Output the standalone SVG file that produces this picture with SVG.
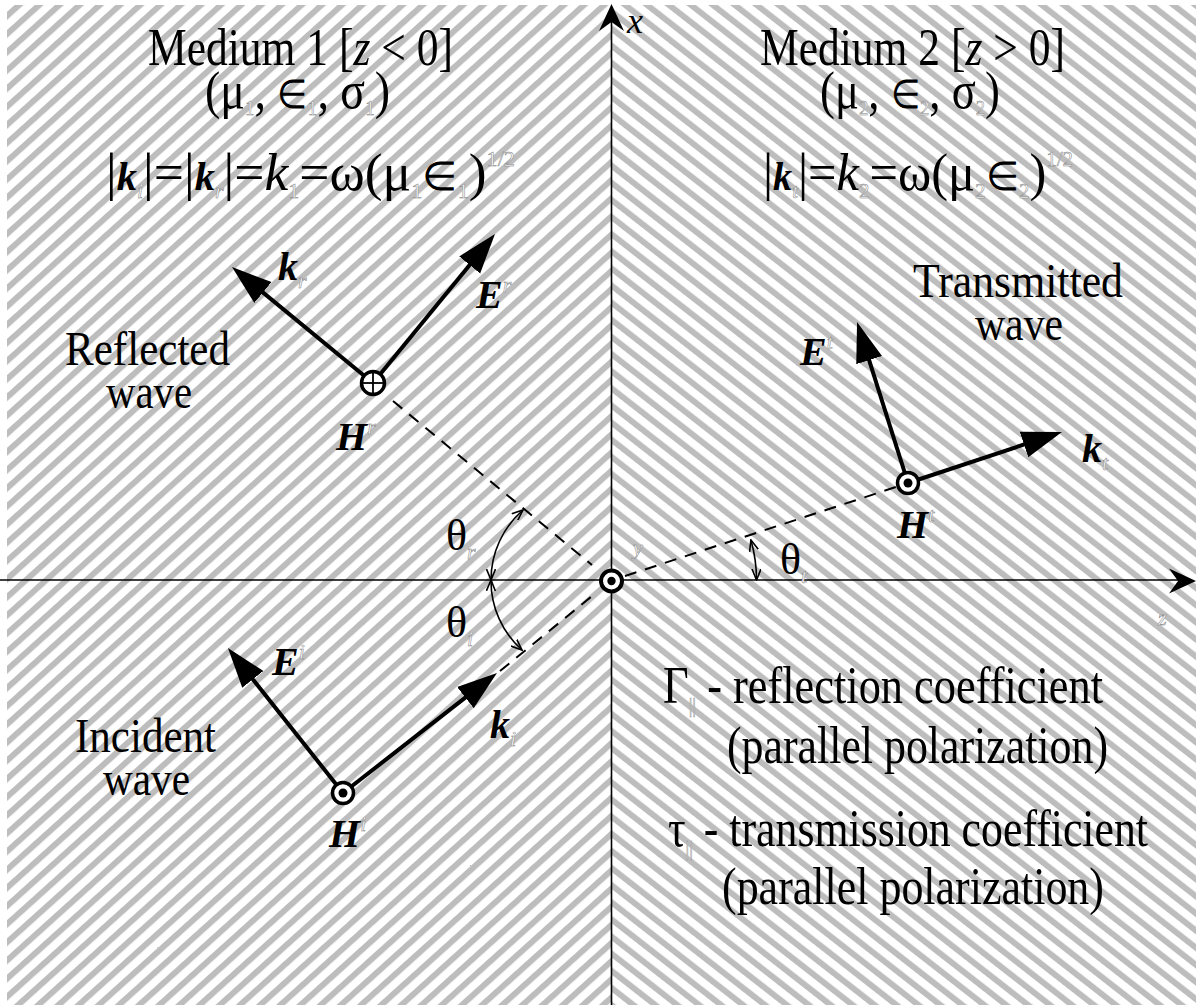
<svg xmlns="http://www.w3.org/2000/svg" width="1196" height="1005" viewBox="0 0 1196 1005">
<style>
.t{font-family:"Liberation Serif","Times New Roman",serif;fill:#000}
.big{font-size:53px}
.mid{font-size:48px}
.v{font-family:"Liberation Serif","Times New Roman",serif;font-size:40px;font-weight:bold;font-style:italic;fill:#000}
.s{font-family:"Liberation Serif","Times New Roman",serif;font-size:22px;font-weight:normal;font-style:italic;fill:#fafafa;stroke:#808080;stroke-width:0.5}
.sn{font-style:normal}
.it{font-style:italic}
.ep{font-size:40px}
.vec{stroke:#000;stroke-width:4;fill:none;marker-end:url(#ah)}
.dash{stroke:#000;stroke-width:2;stroke-dasharray:12 9;fill:none}
.arc{stroke:#000;stroke-width:1.6;fill:none;marker-start:url(#va);marker-end:url(#va)}
.axis{stroke:#000;stroke-width:1.6;fill:none}
.ring{fill:#fff;stroke:#000;stroke-width:3.5}
</style>
<defs>
<pattern id="hl" patternUnits="userSpaceOnUse" width="13.5" height="13.5" patternTransform="rotate(48)"><rect x="0" y="0" width="6" height="13.5" fill="#bdbdbd"/></pattern>
<pattern id="hr" patternUnits="userSpaceOnUse" width="13.5" height="13.5" patternTransform="rotate(-52)"><rect x="0" y="0" width="6" height="13.5" fill="#bdbdbd"/></pattern>
<marker id="ah" viewBox="0 -14 40 28" refX="10" refY="0" markerWidth="40" markerHeight="28" markerUnits="userSpaceOnUse" orient="auto"><path d="M0,-13.5 L40,0 L0,13.5 z" fill="#000"/></marker>
<marker id="va" viewBox="0 0 12 10" refX="11" refY="5" markerWidth="12" markerHeight="10" markerUnits="userSpaceOnUse" orient="auto-start-reverse"><path d="M0,0.5 L11,5 L0,9.5" fill="none" stroke="#000" stroke-width="1.6"/></marker>
</defs>
<rect width="1196" height="1005" fill="#fff"/>
<rect x="7" y="5" width="604.5" height="1000" fill="url(#hl)"/>
<rect x="611.5" y="5" width="584.5" height="1000" fill="url(#hr)"/>

<g id="axes">
<line class="axis" x1="611.5" y1="14" x2="611.5" y2="1005"/>
<line class="axis" x1="0" y1="580" x2="1186" y2="580"/>
<path d="M611.5,4 L624,31 L611.5,22 L599,31 z" fill="#000"/>
<path d="M1196,581 L1169,593.5 L1178,581 L1169,568.5 z" fill="#000"/>
<text class="t it" x="627" y="33" font-size="36">x</text>
<text class="s" x="1158" y="625" font-size="36" stroke-width="0.8">z</text>
<text class="s" x="633" y="555" font-size="32" stroke-width="0.8">y</text>
</g>

<g id="connectors">
<line class="dash" x1="393" y1="401" x2="592" y2="565"/>
<line class="dash" x1="500" y1="671" x2="597" y2="592"/>
<line class="dash" x1="625" y1="576" x2="896" y2="487"/>
<path class="arc" d="M523,510 A92.6,92.6 0 0 0 491,580"/>
<path class="arc" d="M491,580 A92.6,92.6 0 0 0 522,650"/>
<path class="arc" d="M750.9,540 A145,145 0 0 1 756.5,580"/>
</g>

<g id="origin">
<circle cx="611.5" cy="581" r="10.5" fill="#fff" stroke="#000" stroke-width="4"/>
<circle cx="611.5" cy="581" r="4.2" fill="#000"/>
</g>

<g id="medium1">
<text class="t big" x="148" y="65" textLength="305" lengthAdjust="spacingAndGlyphs">Medium 1 [<tspan class="it">z</tspan> &lt; 0]</text>
<text class="t big" x="205" y="108" textLength="185" lengthAdjust="spacingAndGlyphs">(μ<tspan class="s sn" dy="7">1</tspan><tspan dy="-7">, </tspan><tspan class="ep">∈</tspan><tspan class="s sn" dy="7">1</tspan><tspan dy="-7">, σ</tspan><tspan class="s sn" dy="7">1</tspan><tspan dy="-7">)</tspan></text>
<text class="t big" x="106" y="190" textLength="409" lengthAdjust="spacingAndGlyphs">|<tspan class="v" font-size="50">k</tspan><tspan class="s" dy="8">i</tspan><tspan dy="-8">|=|</tspan><tspan class="v" font-size="50">k</tspan><tspan class="s" dy="8">r</tspan><tspan dy="-8">|=</tspan><tspan class="it">k</tspan><tspan class="s sn" dy="8">1</tspan><tspan dy="-8">=ω(μ</tspan><tspan class="s sn" dy="8">1</tspan><tspan class="ep" dy="-8">∈</tspan><tspan class="s sn" dy="8">1</tspan><tspan dy="-8">)</tspan><tspan class="s sn" dy="-24">1/2</tspan></text>
</g>

<g id="medium2">
<text class="t big" x="760" y="65" textLength="305" lengthAdjust="spacingAndGlyphs">Medium 2 [<tspan class="it">z</tspan> &gt; 0]</text>
<text class="t big" x="820" y="108" textLength="180" lengthAdjust="spacingAndGlyphs">(μ<tspan class="s sn" dy="7">2</tspan><tspan dy="-7">, </tspan><tspan class="ep">∈</tspan><tspan class="s sn" dy="7">2</tspan><tspan dy="-7">, σ</tspan><tspan class="s sn" dy="7">2</tspan><tspan dy="-7">)</tspan></text>
<text class="t big" x="763" y="190" textLength="310" lengthAdjust="spacingAndGlyphs">|<tspan class="v" font-size="50">k</tspan><tspan class="s" dy="8">t</tspan><tspan dy="-8">|=</tspan><tspan class="it">k</tspan><tspan class="s sn" dy="8">2</tspan><tspan dy="-8">=ω(μ</tspan><tspan class="s sn" dy="8">2</tspan><tspan class="ep" dy="-8">∈</tspan><tspan class="s sn" dy="8">2</tspan><tspan dy="-8">)</tspan><tspan class="s sn" dy="-24">1/2</tspan></text>
</g>

<g id="reflected">
<text class="t mid" x="65" y="365" textLength="165" lengthAdjust="spacingAndGlyphs">Reflected</text>
<text class="t mid" x="106" y="408" textLength="86" lengthAdjust="spacingAndGlyphs">wave</text>
<line class="vec" x1="373" y1="383" x2="255.2" y2="286.1"/>
<line class="vec" x1="373" y1="383" x2="476" y2="257.2"/>
<circle class="ring" cx="373" cy="383" r="11.5" stroke-width="3.5"/>
<line x1="373" y1="372" x2="373" y2="394" stroke="#000" stroke-width="1.8"/>
<line x1="362" y1="383" x2="384" y2="383" stroke="#000" stroke-width="1.8"/>
<text class="v" x="278" y="280">k<tspan class="s" dy="8">r</tspan></text>
<text class="v" x="476" y="308">E<tspan class="s" dy="-16">r</tspan></text>
<text class="v" x="336" y="450">H<tspan class="s" dy="-16">r</tspan></text>
</g>

<g id="transmitted">
<text class="t mid" x="913" y="297" textLength="210" lengthAdjust="spacingAndGlyphs">Transmitted</text>
<text class="t mid" x="975" y="340" textLength="88" lengthAdjust="spacingAndGlyphs">wave</text>
<line class="vec" x1="908" y1="483" x2="866.1" y2="350.6"/>
<line class="vec" x1="908" y1="483" x2="1033.5" y2="441.4"/>
<circle class="ring" cx="908" cy="483" r="10.5"/>
<circle cx="908" cy="483" r="4.5" fill="#000"/>
<text class="v" x="800" y="365">E<tspan class="s" dy="-16">t</tspan></text>
<text class="v" x="1082" y="462">k<tspan class="s" dy="8">t</tspan></text>
<text class="v" x="897" y="538">H<tspan class="s" dy="-16">t</tspan></text>
</g>

<g id="incident">
<text class="t mid" x="75" y="752" textLength="141" lengthAdjust="spacingAndGlyphs">Incident</text>
<text class="t mid" x="103" y="795" textLength="87" lengthAdjust="spacingAndGlyphs">wave</text>
<line class="vec" x1="343" y1="793" x2="246.6" y2="671.5"/>
<line class="vec" x1="343" y1="793" x2="473.3" y2="691.4"/>
<circle class="ring" cx="343" cy="793" r="10.5"/>
<circle cx="343" cy="793" r="4.5" fill="#000"/>
<text class="v" x="272" y="675">E<tspan class="s" dy="-16">i</tspan></text>
<text class="v" x="490" y="738">k<tspan class="s" dy="8">i</tspan></text>
<text class="v" x="329" y="847">H<tspan class="s" dy="-16">i</tspan></text>
</g>

<g id="angles">
<text class="t" x="446" y="550" font-size="44">θ<tspan class="s" dy="9">r</tspan></text>
<text class="t" x="446" y="637" font-size="44">θ<tspan class="s" dy="9">i</tspan></text>
<text class="t" x="780" y="574" font-size="44">θ<tspan class="s" dy="9">t</tspan></text>
</g>

<g id="coefficients">
<text class="t big" x="663" y="703" textLength="440" lengthAdjust="spacingAndGlyphs">Γ<tspan class="s sn" dy="9">||</tspan><tspan dy="-9"> - reflection coefficient</tspan></text>
<text class="t big" x="727" y="763" textLength="381" lengthAdjust="spacingAndGlyphs">(parallel polarization)</text>
<text class="t big" x="668" y="846" textLength="480" lengthAdjust="spacingAndGlyphs">τ<tspan class="s sn" dy="9">||</tspan><tspan dy="-9"> - transmission coefficient</tspan></text>
<text class="t big" x="722" y="904" textLength="382" lengthAdjust="spacingAndGlyphs">(parallel polarization)</text>
</g>
</svg>
